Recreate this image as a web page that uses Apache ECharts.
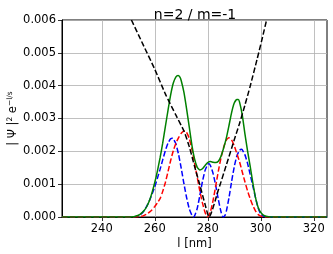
<!DOCTYPE html>
<html><head><meta charset="utf-8">
<script src="https://cdn.jsdelivr.net/npm/echarts@6/dist/echarts.min.js"></script>
<style>html,body{margin:0;padding:0;background:#fff}#c{width:333px;height:254px}</style>
</head><body><div id="c"></div>
<script>
// wavelength (nm) / value pairs
var blueData = [[225,0],[250,0],[252,0.005e-3],[253,0.015e-3],[254,0.04e-3],[255,0.1e-3],[256,0.2e-3],[257,0.33e-3],[258,0.5e-3],[259,0.7e-3],[260,0.92e-3],[261,1.18e-3],[262,1.45e-3],[263,1.74e-3],[264,2.02e-3],[265,2.25e-3],[266,2.38e-3],[266.6,2.4e-3],[267,2.38e-3],[268,2.22e-3],[269,1.9e-3],[270,1.48e-3],[271,1.02e-3],[272,0.6e-3],[273,0.26e-3],[274,0.06e-3],[274.6,0],[275,0.03e-3],[276,0.25e-3],[277,0.65e-3],[278,1.08e-3],[279,1.42e-3],[280,1.6e-3],[280.4,1.62e-3],[281,1.57e-3],[282,1.33e-3],[283,0.96e-3],[284,0.53e-3],[285,0.16e-3],[285.8,0],[286.5,0.05e-3],[287,0.17e-3],[288,0.58e-3],[289,1.08e-3],[290,1.53e-3],[291,1.86e-3],[292,2.03e-3],[292.7,2.06e-3],[293,2.05e-3],[294,1.9e-3],[295,1.64e-3],[296,1.3e-3],[297,0.95e-3],[298,0.6e-3],[299,0.28e-3],[300,0.09e-3],[301,0.025e-3],[302,0.005e-3],[304,0],[325,0]];
var redData = [[225,0],[250,0],[253,0.005e-3],[255,0.02e-3],[256,0.05e-3],[257,0.09e-3],[258,0.15e-3],[259,0.22e-3],[260,0.32e-3],[261,0.43e-3],[262,0.56e-3],[263,0.78e-3],[264,1.05e-3],[265,1.38e-3],[266,1.72e-3],[267,2.02e-3],[268,2.25e-3],[269,2.42e-3],[270,2.55e-3],[271,2.62e-3],[271.5,2.62e-3],[272,2.58e-3],[273,2.4e-3],[274,2.07e-3],[275,1.66e-3],[276,1.22e-3],[277,0.8e-3],[278,0.43e-3],[279,0.14e-3],[279.9,0],[281,0.16e-3],[282,0.5e-3],[283,0.94e-3],[284,1.4e-3],[285,1.8e-3],[286,2.12e-3],[287,2.34e-3],[288,2.41e-3],[289,2.35e-3],[290,2.17e-3],[291,1.93e-3],[292,1.68e-3],[293,1.38e-3],[294,1.08e-3],[295,0.8e-3],[296,0.56e-3],[297,0.35e-3],[298,0.19e-3],[299,0.08e-3],[300,0.025e-3],[301,0.005e-3],[302,0],[325,0]];
var greenData = [[225,0],[250,0],[252,0.01e-3],[253,0.03e-3],[254,0.06e-3],[255,0.12e-3],[256,0.2e-3],[257,0.32e-3],[258,0.5e-3],[259,0.75e-3],[260,1.05e-3],[261,1.4e-3],[262,1.8e-3],[263,2.25e-3],[264,2.75e-3],[265,3.25e-3],[266,3.72e-3],[267,4.08e-3],[268,4.27e-3],[268.8,4.31e-3],[269.5,4.26e-3],[270,4.15e-3],[271,3.8e-3],[272,3.3e-3],[273,2.75e-3],[274,2.2e-3],[275,1.78e-3],[276,1.52e-3],[277,1.43e-3],[278,1.47e-3],[279,1.57e-3],[280,1.66e-3],[281,1.69e-3],[282,1.67e-3],[283,1.66e-3],[284,1.7e-3],[285,1.85e-3],[286,2.1e-3],[287,2.4e-3],[288,2.78e-3],[289,3.18e-3],[290,3.47e-3],[291,3.58e-3],[291.5,3.58e-3],[292,3.5e-3],[293,3.12e-3],[294,2.55e-3],[295,2.02e-3],[296,1.55e-3],[297,1.05e-3],[298,0.6e-3],[299,0.3e-3],[300,0.14e-3],[301,0.06e-3],[302,0.025e-3],[303,0.01e-3],[305,0],[325,0]];
var blackData = [[251.2,6.0e-3],[255.6,5.25e-3],[260,4.5e-3],[264,3.75e-3],[268,3.1e-3],[271,2.62e-3],[273,2.15e-3],[275,1.55e-3],[277,0.98e-3],[279,0.38e-3],[280.5,0],[284,0.82e-3],[287,1.58e-3],[290,2.35e-3],[292,2.85e-3],[294,3.4e-3],[296,3.98e-3],[298.6,4.8e-3],[300.5,5.42e-3],[302.2,6.0e-3]];
var xTicks = [240,260,280,300,320];
var titleText = 'n=2 / m=-1';
var xName = 'l [nm]';

var FONT = 'DejaVu Sans';
var chart = echarts.init(document.getElementById('c'), null, {renderer:'canvas'});
function dashed(color){return {color:color,width:1.5,type:[5.5,2.4]};}
chart.setOption({
  animation:false,
  backgroundColor:'#fff',
  title:{text:titleText,left:190,textAlign:'center',top:3,textStyle:{fontFamily:FONT,fontSize:14,fontWeight:'normal',color:'#000'}},
  grid:{left:62,right:6,top:20,bottom:37,outerBoundsMode:'none',containLabel:false,show:true,borderColor:'#000',borderWidth:1,backgroundColor:'transparent'},
  xAxis:{type:'value',min:225,max:325,
    axisLine:{show:true,onZero:false,lineStyle:{color:'#000',width:1}},
    axisTick:{show:true,length:4,customValues:xTicks,lineStyle:{color:'#000',width:0.8}},
    axisLabel:{customValues:xTicks,fontFamily:FONT,fontSize:11.5,color:'#000',margin:6},
    splitLine:{show:true,lineStyle:{color:'#b0b0b0',width:0.8}},
    name:xName,nameLocation:'middle',nameGap:21,nameMoveOverlap:false,nameTextStyle:{fontFamily:FONT,fontSize:11.5,color:'#000'}},
  yAxis:{type:'value',min:0,max:0.006,interval:0.001,
    axisLine:{show:true,lineStyle:{color:'#000',width:1}},
    axisTick:{show:true,length:4,lineStyle:{color:'#000',width:0.8}},
    axisLabel:{fontFamily:FONT,fontSize:11.5,color:'#000',margin:6,formatter:function(v){return v.toFixed(3);}},
    splitLine:{show:true,lineStyle:{color:'#b0b0b0',width:0.8}},
    name:'{a|| Ψ |}{s|2}{a| e}{s|−l/s}',nameLocation:'middle',nameGap:42,nameRotate:90,nameMoveOverlap:false,
    nameTextStyle:{fontFamily:FONT,color:'#000',rich:{a:{fontFamily:FONT,fontSize:11.5,color:'#000',lineHeight:14},s:{fontFamily:FONT,fontSize:7.5,color:'#000',verticalAlign:'top',lineHeight:14}}}},
  series:[
    {type:'line',data:blueData,showSymbol:false,smooth:0.2,lineStyle:dashed('#0000ff'),z:2},
    {type:'line',data:redData,showSymbol:false,smooth:0.2,lineStyle:dashed('#ff0000'),z:3},
    {type:'line',data:greenData,showSymbol:false,smooth:0.2,lineStyle:{color:'#008000',width:1.5},z:4},
    {type:'line',data:blackData,showSymbol:false,smooth:0.2,lineStyle:dashed('#000000'),z:5}
  ]
});
</script></body></html>
